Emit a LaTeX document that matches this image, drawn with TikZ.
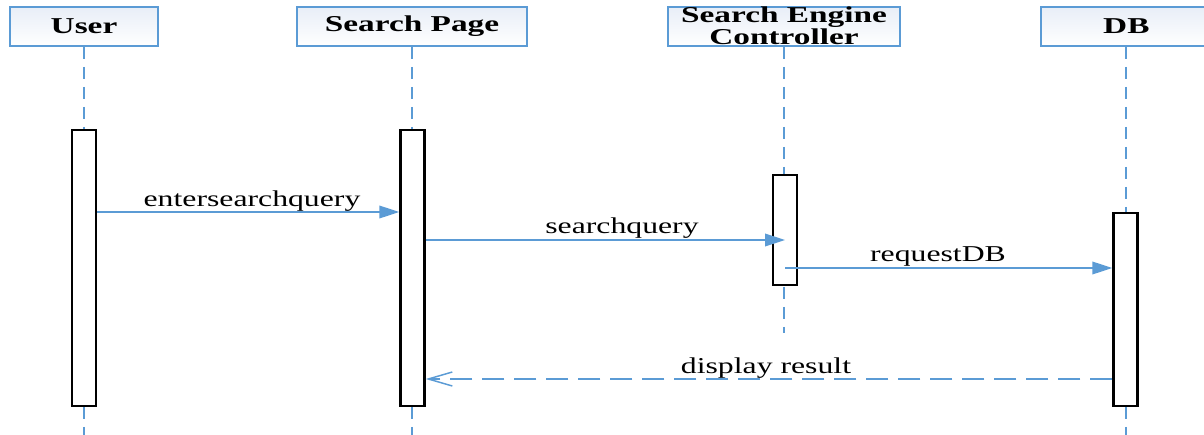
\documentclass[tikz,border=0pt]{standalone}
\usepackage{fontspec}
\setmainfont{Liberation Serif}
\newfontfamily\widefont[FakeStretch=1.4]{Liberation Serif}
\newfontfamily\headfont[FakeStretch=1.47]{Liberation Serif}
\usetikzlibrary{arrows.meta}
\definecolor{lineblue}{RGB}{91,155,213}
\definecolor{headfill}{RGB}{232,238,247}
\tikzset{
  x=0.75pt, y=-0.75pt,
  header/.style={draw=lineblue, line width=1.4pt, top color=headfill, bottom color=white,
    minimum height=29.25pt, inner sep=0pt, align=center,
    font=\headfont\fontsize{17}{16.5}\selectfont\bfseries},
  actbar/.style={draw=black, line width=1.8pt, fill=white, minimum width=18pt, inner sep=0pt},
  lifeline/.style={draw=lineblue, line width=1.5pt, dash pattern=on 9pt off 6pt},
  msg/.style={draw=lineblue, line width=1.1pt, -{Triangle[length=15pt, width=9.5pt]}},
  reply/.style={draw=lineblue, line width=1.1pt, dash pattern=on 16.5pt off 7.5pt,
    -{Straight Barb[length=18pt, width=10.5pt, line width=1.1pt]}},
  lbl/.style={inner sep=0pt, anchor=base, font=\widefont\fontsize{17}{19}\selectfont}
}
\begin{document}
\begin{tikzpicture}
\useasboundingbox (0,0) rectangle (1204,435);

% participant heads
\node[header, minimum width=111pt]   (user) at (84,26.5)   {User};
\node[header, minimum width=172.5pt] (page) at (412,26.5)  {Search Page};
\node[header, minimum width=174pt]   (ctrl) at (784,26.5)  {};
\node[inner sep=0pt, anchor=base, font=\headfont\fontsize{17}{16.5}\selectfont\bfseries]
  (ctrlA) at (784,23) {Search Engine};
\node[inner sep=0pt, anchor=base, font=\headfont\fontsize{17}{16.5}\selectfont\bfseries]
  (ctrlB) at (784,45) {Controller};
\node[header, minimum width=135pt]   (db)   at (1131,26.5) {\hspace*{-7pt}DB};

% lifeline ends
\coordinate (userEnd) at (84,435);
\coordinate (pageEnd) at (412,435);
\coordinate (ctrlEnd) at (784,333);
\coordinate (dbEnd)   at (1126,435);

\draw[lifeline] (user.south) -- (userEnd);
\draw[lifeline] (page.south) -- (pageEnd);
\draw[lifeline] (ctrl.south) -- (ctrlEnd);
\draw[lifeline] (dbEnd |- db.south) -- (dbEnd);

% activation bars
\node[actbar, minimum height=207pt]    (userAct) at (84,268) {};
\node[actbar, minimum height=207pt]    (pageAct) at (412.5,268) {};
\node[actbar, minimum height=82.5pt]   (ctrlAct) at (785,230) {};
\node[actbar, minimum height=144.75pt] (dbAct)   at (1125.5,309.5) {};

% messages
\draw[msg] (userAct.east |- 0,212) -- (pageAct.west |- 0,212);
\node[lbl] (m1) at (252,206) {entersearchquery};

\draw[msg] (pageAct.east |- 0,240) -- (ctrlAct.center |- 0,240);
\node[lbl] (m2) at (622,233) {searchquery};

\draw[msg] (ctrlAct.center |- 0,268) -- (dbAct.west |- 0,268);
\node[lbl] (m3) at (938,261) {requestDB};

\draw[reply] (dbAct.west |- 0,379) -- (pageAct.east |- 0,379);
\node[lbl] (m4) at (766,373) {display result};
\end{tikzpicture}
\end{document}
